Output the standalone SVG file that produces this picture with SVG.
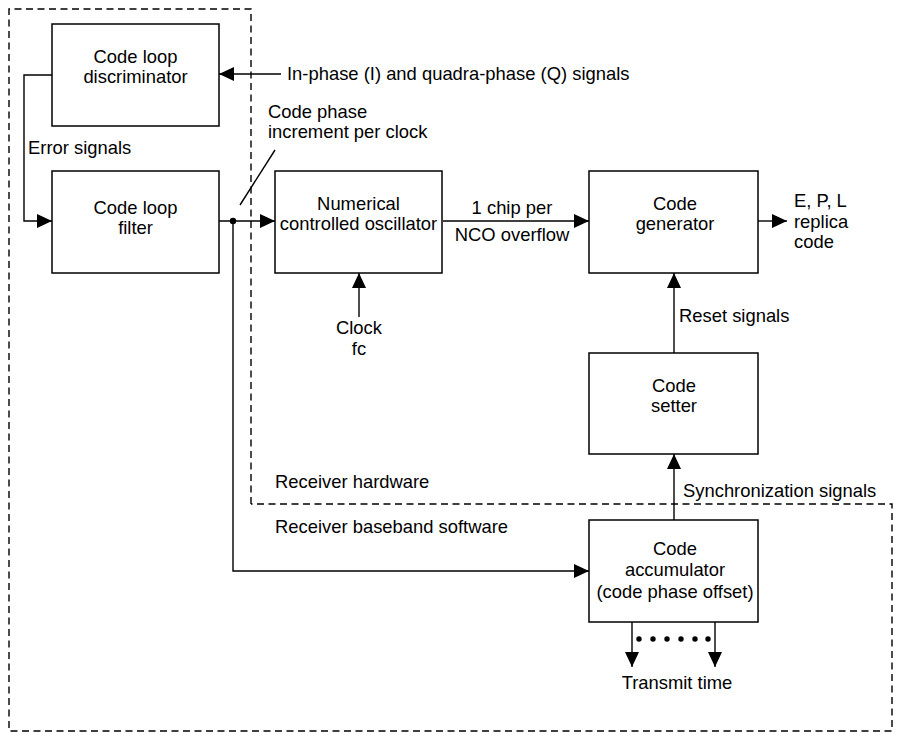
<svg xmlns="http://www.w3.org/2000/svg" width="897" height="733" viewBox="0 0 897 733">
<style>
text{font-family:"Liberation Sans",Arial,sans-serif;font-size:18.4px;fill:#000}
.m{text-anchor:middle}
.box{fill:#fff;stroke:#000;stroke-width:1.5}
.ln{fill:none;stroke:#000;stroke-width:1.4}
.ar{fill:none;stroke:#000;stroke-width:1.4;marker-end:url(#ah)}
.dash{fill:none;stroke:#000;stroke-width:1.4;stroke-dasharray:7 4.5}
</style>
<defs>
<marker id="ah" markerUnits="userSpaceOnUse" markerWidth="16" markerHeight="15" refX="15" refY="7" orient="auto">
<path d="M0,0 L15,7 L0,14 z" fill="#000"/>
</marker>
</defs>
<rect width="897" height="733" fill="#fff"/>
<g id="boundary">
<path class="dash" d="M251,504 L251,9 L9,9 L9,731 L892,731 L892,504 L251,504"/>
<text x="275" y="488">Receiver hardware</text>
<text x="275" y="533">Receiver baseband software</text>
</g>
<g id="connectors">
<path class="ar" d="M281,74 L219,74"/>
<path class="ar" d="M52,75 L24,75 L24,221 L52,221"/>
<path class="ar" d="M219,221 L275,221"/>
<path class="ar" d="M233,221 L233,571 L589,571"/>
<circle cx="233" cy="221" r="3.2" fill="#000"/>
<path class="ln" d="M240,205 L275,150"/>
<path class="ar" d="M359,317 L359,273"/>
<path class="ar" d="M443,221 L589,221"/>
<path class="ar" d="M758,221 L787,221"/>
<path class="ar" d="M674,353 L674,273"/>
<path class="ar" d="M674,520 L674,454"/>
<path class="ar" d="M632,622 L632,667"/>
<path class="ar" d="M715,622 L715,667"/>
<g fill="#000">
<circle cx="639" cy="639" r="2.7"/>
<circle cx="653" cy="639" r="2.7"/>
<circle cx="667" cy="639" r="2.7"/>
<circle cx="681" cy="639" r="2.7"/>
<circle cx="695" cy="639" r="2.7"/>
<circle cx="708" cy="639" r="2.7"/>
</g>
<text x="287" y="80">In-phase (I) and quadra-phase (Q) signals</text>
<text x="28" y="154">Error signals</text>
<text x="268" y="118">Code phase</text>
<text x="268" y="138">increment per clock</text>
<text class="m" x="359" y="334">Clock</text>
<text class="m" x="359" y="355">fc</text>
<text class="m" x="512" y="214">1 chip per</text>
<text class="m" x="512" y="241">NCO overflow</text>
<text x="794" y="207">E, P, L</text>
<text x="794" y="228">replica</text>
<text x="794" y="248">code</text>
<text x="679" y="322">Reset signals</text>
<text x="683" y="497">Synchronization signals</text>
<text class="m" x="677" y="689">Transmit time</text>
</g>
<g id="discriminator">
<rect class="box" x="52" y="24" width="167" height="102"/>
<text class="m" x="135.5" y="63">Code loop</text>
<text class="m" x="135.5" y="83">discriminator</text>
</g>
<g id="filter">
<rect class="box" x="52" y="171" width="167" height="102"/>
<text class="m" x="135.5" y="214">Code loop</text>
<text class="m" x="135.5" y="234">filter</text>
</g>
<g id="nco">
<rect class="box" x="275" y="171" width="167" height="102"/>
<text class="m" x="358.5" y="210">Numerical</text>
<text class="m" x="358.5" y="230">controlled oscillator</text>
</g>
<g id="generator">
<rect class="box" x="589" y="171" width="169" height="102"/>
<text class="m" x="675" y="210">Code</text>
<text class="m" x="675" y="230">generator</text>
</g>
<g id="setter">
<rect class="box" x="589" y="353" width="169" height="101"/>
<text class="m" x="674" y="392">Code</text>
<text class="m" x="674" y="412">setter</text>
</g>
<g id="accumulator">
<rect class="box" x="589" y="520" width="169" height="102"/>
<text class="m" x="675" y="555">Code</text>
<text class="m" x="675" y="576">accumulator</text>
<text class="m" x="675" y="598">(code phase offset)</text>
</g>
</svg>
